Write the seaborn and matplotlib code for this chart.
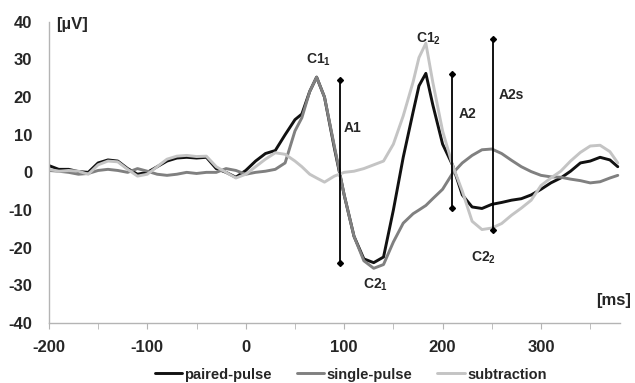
import numpy as np
import pandas as pd
import matplotlib
matplotlib.use("Agg")
import matplotlib.pyplot as plt
import seaborn as sns
from matplotlib.ticker import MultipleLocator

# -----------------------
# Data (time in ms, amplitude in uV)
# -----------------------
time_ms = [-200, -190, -180, -170, -160, -150, -140, -130, -120, -110,
           -100, -90, -80, -70, -60, -50, -40, -30, -20, -10,
           0, 10, 20, 30, 40, 50, 57, 65, 72, 80,
           90, 100, 110, 120, 130, 140, 150, 160, 170, 176,
           183, 190, 200, 210, 220, 230, 240, 250, 260, 270,
           280, 290, 300, 310, 320, 330, 340, 350, 360, 370, 378]

paired_pulse = [1.8, 0.8, 0.8, 0.2, 0.0, 2.5, 3.3, 3.0, 1.0, -0.5,
                0.0, 1.5, 3.0, 3.8, 4.0, 3.8, 4.0, 1.0, 0.0, -1.3,
                0.5, 3.0, 5.0, 5.8, 10.0, 14.0, 15.5, 21.5, 25.3, 20.0,
                6.5, -6.0, -17.0, -23.0, -24.0, -22.5, -10.0, 4.0, 16.0, 23.0,
                26.3, 18.0, 7.5, 2.0, -6.0, -9.2, -9.6, -8.5, -8.0, -7.4,
                -7.0, -6.0, -4.5, -2.8, -1.5, 0.3, 2.5, 3.0, 4.0, 3.3, 1.5]

single_pulse = [0.5, 0.3, 0.0, -0.5, -0.3, 0.5, 0.8, 0.5, 0.0, 1.0,
                0.3, -0.5, -0.8, -0.5, 0.0, -0.3, 0.0, 0.0, 1.0, 0.5,
                -0.5, 0.0, 0.3, 0.8, 2.5, 11.0, 14.5, 21.5, 25.3, 20.0,
                7.0, -6.0, -17.0, -23.5, -25.5, -24.5, -18.5, -13.5, -11.0, -10.0,
                -8.8, -7.0, -4.5, -0.3, 2.5, 4.5, 6.0, 6.2, 5.0, 3.2,
                1.5, 0.2, -0.8, -1.2, -1.3, -1.8, -2.2, -2.8, -2.5, -1.5, -0.8]

subtraction = [0.8, 0.3, 0.5, 0.3, -0.5, 2.0, 3.0, 2.8, 0.8, -1.0,
               -0.5, 1.5, 3.5, 4.3, 4.5, 4.2, 4.3, 1.5, 0.0, -1.5,
               -0.5, 1.5, 3.5, 5.2, 4.8, 3.0, 1.5, -0.5, -1.5, -2.6,
               -1.0, 0.0, 0.3, 1.0, 2.0, 3.0, 7.5, 15.0, 24.0, 30.5,
               34.3, 24.0, 11.0, 2.0, -5.0, -13.0, -15.2, -14.8, -13.6, -11.4,
               -9.5, -7.4, -3.5, -1.5, 0.3, 3.0, 5.3, 7.0, 7.2, 5.5, 2.5]

series_names = ["paired-pulse", "single-pulse", "subtraction"]
series_colors = ["#111111", "#808080", "#c4c4c4"]

# amplitude markers (A1, A2, A2s)
marker_names = ["A1", "A2", "A2s"]
marker_t = [96, 210, 251]
marker_top = [24.5, 26.1, 35.4]
marker_bot = [-24.1, -9.4, -15.2]
marker_label_t = [99.5, 216, 257]
marker_label_y = [11.7, 15.4, 20.5]

# component labels
comp_labels = ["C1$_1$", "C2$_1$", "C1$_2$", "C2$_2$"]
comp_t = [74, 132, 186, 242]
comp_y = [29.8, -30.0, 35.6, -22.6]

# -----------------------
# Style
# -----------------------
sns.set_style("white")
plt.rcParams["font.family"] = ["Liberation Sans", "DejaVu Sans"]
plt.rcParams["font.weight"] = "bold"
plt.rcParams["axes.unicode_minus"] = False
plt.rcParams["mathtext.fontset"] = "custom"
plt.rcParams["mathtext.rm"] = "Liberation Sans:bold"
plt.rcParams["mathtext.it"] = "Liberation Sans:bold"
plt.rcParams["mathtext.bf"] = "Liberation Sans:bold"

df = pd.DataFrame({
    "time": time_ms * 3,
    "amp": paired_pulse + single_pulse + subtraction,
    "series": [n for n in series_names for _ in time_ms],
})

fig = plt.figure(figsize=(6.35, 3.83), dpi=100)
ax = fig.add_axes([0.077, 0.157, 0.899, 0.786])

sns.lineplot(data=df, x="time", y="amp", hue="series", hue_order=series_names,
             palette=series_colors, linewidth=2.1, ax=ax, legend=True,
             sort=False)

# amplitude bars
for t, top, bot in zip(marker_t, marker_top, marker_bot):
    ax.plot([t, t], [bot, top], color="black", linewidth=1.3,
            marker="D", markersize=3, zorder=5)
for name, t, y in zip(marker_names, marker_label_t, marker_label_y):
    ax.text(t, y, name, fontsize=10, fontweight="bold", ha="left", va="center")
for name, t, y in zip(comp_labels, comp_t, comp_y):
    ax.text(t, y, name, fontsize=10, fontweight="bold", ha="center", va="center")

# axes
ax.set_xlim(-200, 380)
ax.set_ylim(-40, 40)
ax.xaxis.set_major_locator(MultipleLocator(100))
ax.xaxis.set_minor_locator(MultipleLocator(50))
ax.yaxis.set_major_locator(MultipleLocator(10))
ax.set_xlabel("")
ax.set_ylabel("")
for side in ["top", "right"]:
    ax.spines[side].set_visible(False)
for side in ["left", "bottom"]:
    ax.spines[side].set_color("#b4b4b4")
    ax.spines[side].set_linewidth(1.0)
ax.tick_params(axis="x", which="both", direction="out", length=4,
               color="#b4b4b4", labelsize=12, pad=8, bottom=True)
ax.tick_params(axis="y", length=0, labelsize=12, pad=12)
for lbl in ax.get_xticklabels() + ax.get_yticklabels():
    lbl.set_fontweight("bold")

ax.text(-192.6, 39.4, "[µV]", fontsize=12, fontweight="bold",
        ha="left", va="center", clip_on=False)
ax.text(391, -34, "[ms]", fontsize=12, fontweight="bold",
        ha="right", va="center", clip_on=False)

# legend below the plot
handles, labels = ax.get_legend_handles_labels()
ax.get_legend().remove()
fig.legend(handles, labels, loc="center", bbox_to_anchor=(0.552, 0.022),
           ncol=3, frameon=False, handlelength=1.9,
           handletextpad=0.15, columnspacing=1.7,
           prop={"weight": "bold", "size": 10.5})

fig.savefig("out.png", dpi=100)
